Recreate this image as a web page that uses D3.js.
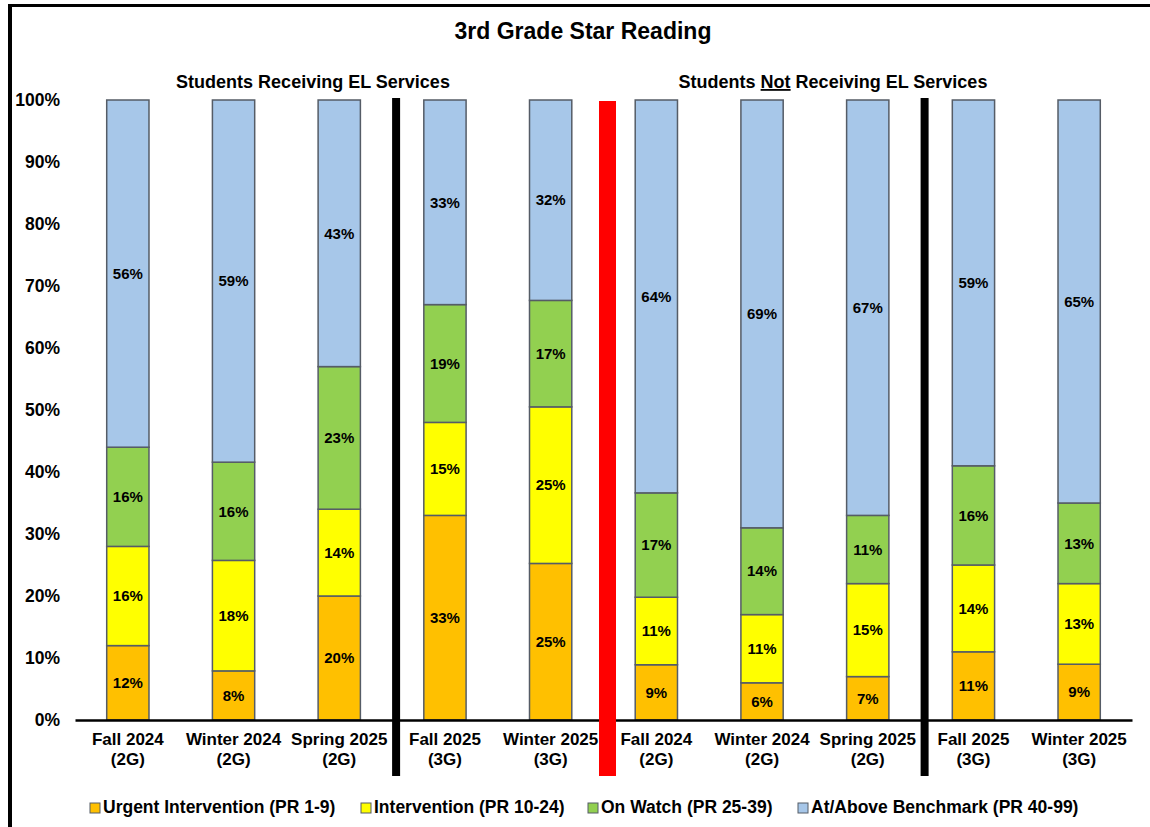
<!DOCTYPE html>
<html>
<head>
<meta charset="utf-8">
<script src="https://cdn.jsdelivr.net/npm/d3@7"></script>
<style>
  body { margin: 0; background: #fff; }
  svg text { font-family: "Liberation Sans", Arial, sans-serif; font-weight: bold; fill: #000; }
</style>
</head>
<body>
<div id="chart"></div>
<script>
// chart data
const categories = ["Fall 2024|(2G)", "Winter 2024|(2G)", "Spring 2025|(2G)", "Fall 2025|(3G)", "Winter 2025|(3G)",
                    "Fall 2024 |(2G) ", "Winter 2024 |(2G) ", "Spring 2025 |(2G) ", "Fall 2025 |(3G) ", "Winter 2025 |(3G) "];
const urgent       = [12, 8, 20, 33, 25, 9, 6, 7, 11, 9];
const intervention = [16, 18, 14, 15, 25, 11, 11, 15, 14, 13];
const onWatch      = [16, 16, 23, 19, 17, 17, 14, 11, 16, 13];
const atAbove      = [56, 59, 43, 33, 32, 64, 69, 67, 59, 65];
const seriesNames  = ["Urgent Intervention (PR 1-9)", "Intervention (PR 10-24)", "On Watch (PR 25-39)", "At/Above Benchmark (PR 40-99)"];
const seriesColors = ["#FFC000", "#FFFF00", "#92D050", "#A7C7E9"];
const yTicks = [0, 0.1, 0.2, 0.3, 0.4, 0.5, 0.6, 0.7, 0.8, 0.9, 1];

const width = 1150, height = 827;
const margin = { top: 100, right: 18, bottom: 107, left: 75 };

const svg = d3.select("#chart").append("svg")
  .attr("width", width)
  .attr("height", height);

// frame lines (left and top)
svg.append("line").attr("x1", 10).attr("x2", 10).attr("y1", 4).attr("y2", height)
  .attr("stroke", "#000").attr("stroke-width", 4);
svg.append("line").attr("x1", 8).attr("x2", width).attr("y1", 5.5).attr("y2", 5.5)
  .attr("stroke", "#000").attr("stroke-width", 3);

const xScale = d3.scaleBand()
  .domain(categories)
  .range([margin.left, width - margin.right])
  .paddingInner(0.6)
  .paddingOuter(0.3);

const yScale = d3.scaleLinear()
  .domain([0, 1])
  .range([height - margin.bottom, margin.top]);

// 100% stacked: normalise each column by its total
const rows = categories.map((c, i) => {
  const vals = [urgent[i], intervention[i], onWatch[i], atAbove[i]];
  const total = d3.sum(vals);
  const row = { cat: c };
  vals.forEach((v, k) => { row["s" + k] = v / total; row["v" + k] = v; });
  return row;
});
const stack = d3.stack().keys(["s0", "s1", "s2", "s3"]);
const layers = stack(rows);

// y axis labels (no axis line)
const yAxis = svg.append("g")
  .attr("transform", `translate(${margin.left},0)`)
  .call(d3.axisLeft(yScale).tickValues(yTicks).tickFormat(d3.format(".0%")).tickSize(0).tickPadding(15));
yAxis.select(".domain").remove();
yAxis.selectAll("text").attr("font-size", 17.5).style("font-family", "Liberation Sans, Arial, sans-serif").style("font-weight", "bold");

// bars
layers.forEach((layer, k) => {
  const g = svg.append("g");
  g.selectAll("rect")
    .data(layer)
    .enter()
    .append("rect")
    .attr("x", d => xScale(d.data.cat))
    .attr("y", d => yScale(d[1]))
    .attr("width", xScale.bandwidth())
    .attr("height", d => yScale(d[0]) - yScale(d[1]))
    .attr("fill", seriesColors[k])
    .attr("stroke", "#555c66")
    .attr("stroke-width", 1.5);
  g.selectAll("text")
    .data(layer)
    .enter()
    .append("text")
    .attr("x", d => xScale(d.data.cat) + xScale.bandwidth() / 2)
    .attr("y", d => yScale((d[0] + d[1]) / 2))
    .attr("dy", "0.35em")
    .attr("text-anchor", "middle")
    .attr("font-size", 15)
    .text(d => d.data["v" + k] + "%");
});

// x axis
const xAxis = svg.append("g")
  .attr("transform", `translate(0,${yScale(0)})`)
  .call(d3.axisBottom(xScale).tickSize(0).tickFormat(""));
xAxis.select(".domain").attr("stroke", "#000").attr("stroke-width", 2.5);

// x tick labels on two lines
categories.forEach(c => {
  const [l1, l2] = c.split("|").map(s => s.trim());
  const t = svg.append("text")
    .attr("x", xScale(c) + xScale.bandwidth() / 2)
    .attr("y", yScale(0) + 25)
    .attr("text-anchor", "middle")
    .attr("font-size", 17);
  t.append("tspan").attr("x", xScale(c) + xScale.bandwidth() / 2).text(l1);
  t.append("tspan").attr("x", xScale(c) + xScale.bandwidth() / 2).attr("dy", 20).text(l2);
});

// dividers between groups
const step = xScale.step();
const dividers = [
  { after: 2, color: "#000", w: 8, top: 98 },
  { after: 4, color: "#FF0000", w: 17, top: 101 },
  { after: 7, color: "#000", w: 8, top: 98 }
];
dividers.forEach(dv => {
  const cx = xScale(categories[dv.after]) + xScale.bandwidth() + (step - xScale.bandwidth()) / 2 + 4;
  svg.append("rect")
    .attr("x", cx - dv.w / 2)
    .attr("y", dv.top)
    .attr("width", dv.w)
    .attr("height", 776 - dv.top)
    .attr("fill", dv.color);
});

// titles
svg.append("text")
  .attr("x", 583)
  .attr("y", 39)
  .attr("text-anchor", "middle")
  .attr("font-size", 23)
  .text("3rd Grade Star Reading");

svg.append("text")
  .attr("x", 313)
  .attr("y", 88)
  .attr("text-anchor", "middle")
  .attr("font-size", 18)
  .text("Students Receiving EL Services");

const sub2 = svg.append("text")
  .attr("x", 833)
  .attr("y", 88)
  .attr("text-anchor", "middle")
  .attr("font-size", 18);
sub2.append("tspan").text("Students ");
sub2.append("tspan").attr("text-decoration", "underline").style("text-decoration", "underline").text("Not");
sub2.append("tspan").text(" Receiving EL Services");

// legend
const legendX = [90, 361, 588, 798];
const legend = svg.append("g");
seriesNames.forEach((name, k) => {
  legend.append("rect")
    .attr("x", legendX[k])
    .attr("y", 803)
    .attr("width", 10)
    .attr("height", 10)
    .attr("fill", seriesColors[k])
    .attr("stroke", "#555c66")
    .attr("stroke-width", 1);
  legend.append("text")
    .attr("x", legendX[k] + 13)
    .attr("y", 813)
    .attr("font-size", 17.5)
    .text(name);
});
</script>
</body>
</html>
